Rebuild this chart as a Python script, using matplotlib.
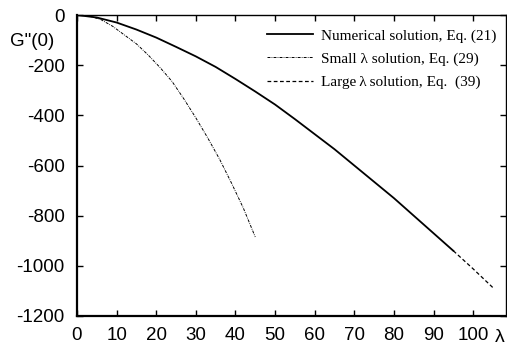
import matplotlib
matplotlib.use("Agg")
import matplotlib.pyplot as plt
from matplotlib.ticker import MultipleLocator

# values
numLambda = [0, 5, 10, 15, 20, 25, 30, 35, 40, 45, 50, 55, 60, 65, 70, 75, 80, 85, 90, 95]
numG = [0, -10, -30, -58, -90, -127, -165, -207, -255, -305, -357, -415, -475, -535,
        -600, -665, -730, -800, -870, -940]

smallLambda = [0, 3, 6, 9, 12, 15, 18, 21, 24, 27, 30, 33, 36, 39, 42, 45]
smallG = [0, -4, -18, -45, -80, -115, -160, -210, -265, -335, -410, -490, -575, -670, -770, -885]

largeLambda = [95, 100, 105]
largeG = [-940, -1012, -1087]

labels = ["Numerical solution, Eq. (21)",
          "Small \u03bb solution, Eq. (29)",
          "Large\u2009\u03bb\u2009solution, Eq.  (39)"]

plt.rcParams['font.family'] = ['Liberation Sans', 'DejaVu Sans']
plt.rcParams['axes.unicode_minus'] = False

fig = plt.figure(figsize=(5.07, 3.58), dpi=100)
ax = fig.add_axes([77 / 507, 1 - 316 / 358, (506 - 77) / 507, (316 - 15) / 358])

ax.plot(numLambda, numG, color='black', lw=1.3, label=labels[0])
ax.plot(smallLambda, smallG, color='black', lw=0.7, dashes=(3, 1.2, 0.8, 1.2), label=labels[1])
ax.plot(largeLambda, largeG, color='black', lw=0.9, dashes=(3, 2), label=labels[2])

ax.set_xlim(0, 108.3)
ax.set_ylim(-1200, 0)
ax.xaxis.set_major_locator(MultipleLocator(10))
ax.yaxis.set_major_locator(MultipleLocator(200))
ax.set_xticks(range(0, 101, 10))
ax.tick_params(direction='in', length=4, width=1, labelsize=13.5, top=True, right=True)
ax.tick_params(axis='x', pad=8)
ax.tick_params(axis='y', pad=9)
for side in ['left', 'bottom']:
    ax.spines[side].set_linewidth(1.6)
for side in ['top', 'right']:
    ax.spines[side].set_linewidth(1.0)

fig.text(10 / 507, 1 - 41 / 358, 'G"(0)', fontsize=13.5, va='center', ha='left')
fig.text(500 / 507, 1 - 338 / 358, '\u03bb', fontsize=14, va='center', ha='center')

leg = ax.legend(loc='upper right', bbox_to_anchor=(1.005, 0.995), frameon=False,
                prop={'family': ['Liberation Serif', 'DejaVu Serif'], 'size': 11},
                handlelength=3.0, handletextpad=0.5, labelspacing=0.62, borderaxespad=0.4)

fig.savefig("out.png", dpi=100)
